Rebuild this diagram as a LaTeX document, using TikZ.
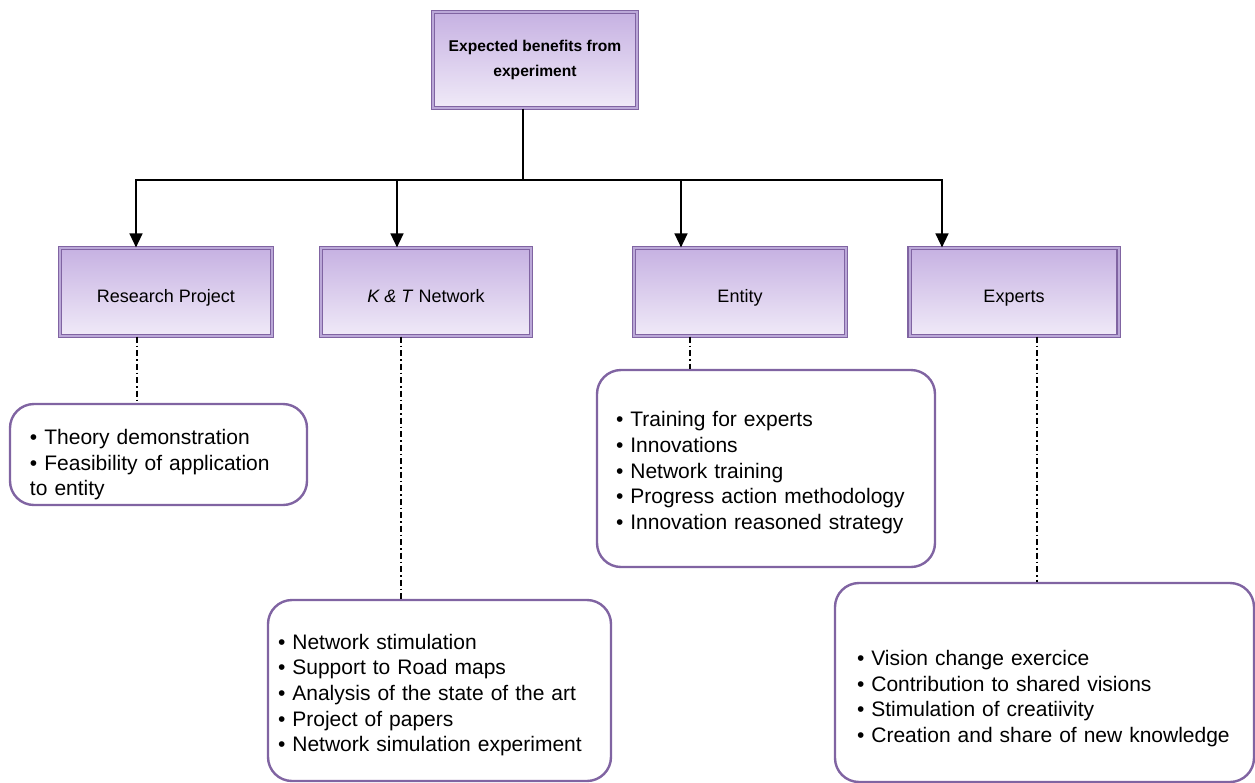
\documentclass[tikz,border=0pt]{standalone}
\usepackage{fontspec}
\setmainfont{Liberation Sans}
\usetikzlibrary{positioning, arrows.meta}
\definecolor{boxline}{HTML}{8064A2}
\definecolor{boxgap}{HTML}{BBA8D8}
\definecolor{boxtop}{HTML}{C6B1E2}
\definecolor{boxbot}{HTML}{F0EAF8}

\begin{document}
\begin{tikzpicture}[x=0.5pt, y=-0.5pt,
		catbox/.style={rectangle, draw=boxline, double=boxgap, double distance=1pt, line width=0.6pt, top color=boxtop, bottom color=boxbot, inner sep=0pt, minimum height=44pt, text height=11.5pt, text depth=0.6pt, font=\fontsize{9}{11}\selectfont},
		headbox/.style={catbox, minimum width=102pt, minimum height=48pt, text height=, text depth=, align=center, font=\fontsize{7.8}{12.5}\selectfont\bfseries},
		leaf/.style={rectangle, rounded corners=12pt, draw=boxline, line width=1.2pt, fill=white, align=left, inner ysep=0pt, font=\fontsize{10.5}{12.85}\selectfont},
		link/.style={dash pattern=on 3pt off 1.5pt on 0.75pt off 1.5pt, line width=0.6pt},
		>={Triangle[width=6.5pt, length=7pt]}
	]
	\useasboundingbox (0,0) rectangle (1255,783);

	\node[headbox] (head) at (535,60) {Expected benefits from\\experiment};

	\node[catbox, minimum width=106pt] (rp) at (166,292) {Research Project};
	\node[catbox, minimum width=105pt] (kt) at (426,292) {\textit{K \& T} Network};
	\node[catbox, minimum width=106pt] (ent) at (740,292) {Entity};
	\node[catbox, minimum width=104.5pt] (exp) at (1014,292) {Experts};

	\node[leaf, text width=128.5pt, inner xsep=10pt, minimum height=50.5pt] (rp-leaf) at (158.5,454.5)
		{\rule{0pt}{17.7pt}\textbullet{} Theory demonstration\\\textbullet{} Feasibility of application\\to entity};
	\node[leaf, text width=161.5pt, inner xsep=5pt, minimum height=90.5pt] (kt-leaf) at (439.5,690.5)
		{\rule{0pt}{12.2pt}\textbullet{} Network stimulation\\\textbullet{} Support to Road maps\\\textbullet{} Analysis of the state of the art\\\textbullet{} Project of papers\\\textbullet{} Network simulation experiment};
	\node[leaf, text width=150pt, inner xsep=9.5pt, minimum height=98.5pt] (ent-leaf) at (766,468.5)
		{\rule{0pt}{11.7pt}\textbullet{} Training for experts\\\textbullet{} Innovations\\\textbullet{} Network training\\\textbullet{} Progress action methodology\\\textbullet{} Innovation reasoned strategy};
	\node[leaf, text width=187.5pt, inner xsep=11pt, minimum height=99.5pt] (exp-leaf) at (1044.5,682.5)
		{\rule{0pt}{23.7pt}\textbullet{} Vision change exercice\\\textbullet{} Contribution to shared visions\\\textbullet{} Stimulation of creatiivity\\\textbullet{} Creation and share of new knowledge};

	\coordinate (hub) at (523,180);
	\draw[line width=0.75pt] (head.south -| hub) -- (hub);
	\foreach \n/\s in {rp/-15pt, kt/-14.5pt, ent/-29.5pt, exp/-36pt}
		\draw[->, line width=0.75pt] (hub) -| ([xshift=\s]\n.north);

	\foreach \n/\s in {rp/-14.5pt, kt/-12.5pt, ent/-25pt, exp/11.5pt}{
		\path ([xshift=\s]\n.south) coordinate (d\n);
		\draw[link] (d\n) -- (d\n |- \n-leaf.north);
	}
\end{tikzpicture}
\end{document}
